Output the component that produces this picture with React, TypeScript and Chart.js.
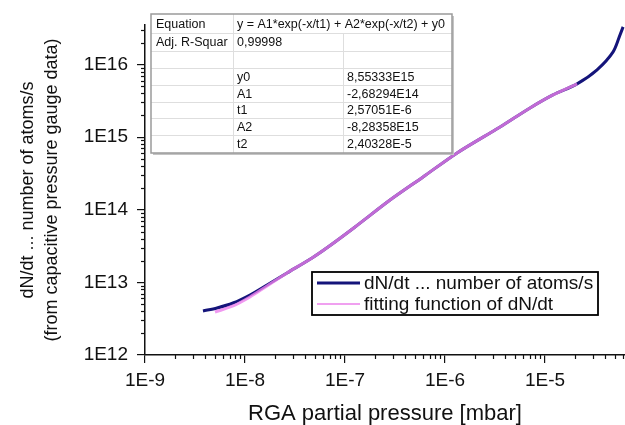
import React, { useEffect, useRef } from "react";
import { Chart, registerables } from "chart.js";

Chart.register(...registerables);

// ---- data ----
const measuredX = [3.8e-9, 5.25e-9, 7.59e-9, 1.12e-8, 1.66e-8, 2.63e-8, 4.68e-8, 6.76e-8, 1.26e-7, 2.82e-7, 6.03e-7, 1.32e-6, 3.55e-6, 7.08e-6, 1.2e-5, 2.09e-5, 3.31e-5, 4.79e-5, 5.62e-5, 6.03e-5];
const measuredY = [4.04e12, 4.44e12, 5.2e12, 6.7e12, 9.21e12, 1.35e13, 2.17e13, 3.07e13, 5.8e13, 1.36e14, 2.83e14, 6.06e14, 1.38e15, 2.52e15, 3.81e15, 5.41e15, 8.43e15, 1.49e16, 2.56e16, 3.3e16];
const fitX = [5.01e-9, 7.59e-9, 1.12e-8, 1.66e-8, 2.63e-8, 4.68e-8, 6.76e-8, 1.26e-7, 2.82e-7, 6.03e-7, 1.32e-6, 3.55e-6, 7.08e-6, 1.2e-5, 2.09e-5];
const fitY = [3.91e12, 4.73e12, 6.29e12, 8.92e12, 1.35e13, 2.17e13, 3.07e13, 5.8e13, 1.36e14, 2.83e14, 6.06e14, 1.38e15, 2.52e15, 3.81e15, 5.41e15];

const xDecades = [1e-9, 1e-8, 1e-7, 1e-6, 1e-5];
const xTickLabels = ["1E-9", "1E-8", "1E-7", "1E-6", "1E-5"];
const yDecades = [1e12, 1e13, 1e14, 1e15, 1e16];
const yTickLabels = ["1E12", "1E13", "1E14", "1E15", "1E16"];
const xMin = 1e-9;
const xMax = 6.3e-5;
const yMin = 1e12;
const yMax = 3.5e16;

const legendLabels = ["dN/dt ... number of atoms/s", "fitting function of dN/dt"];
const xTitle = "RGA partial pressure [mbar]";
const yTitle = ["dN/dt ... number of atoms/s", "(from capacitive pressure gauge data)"];

const tableRows = [
  ["Equation", "y = A1*exp(-x/t1) + A2*exp(-x/t2) + y0", ""],
  ["Adj. R-Squar", "0,99998", ""],
  ["", "", ""],
  ["", "y0", "8,55333E15"],
  ["", "A1", "-2,68294E14"],
  ["", "t1", "2,57051E-6"],
  ["", "A2", "-8,28358E15"],
  ["", "t2", "2,40328E-5"],
];

const FONT = "'Liberation Sans', Arial, sans-serif";
const BLUE = "#14147a";
const PINK_LINE = "rgba(236,128,236,0.8)";
const PINK_LEGEND = "#f0a0f0";

function minorTicks(decades: number[], max: number): number[] {
  const out: number[] = [];
  const all = [...decades, decades[decades.length - 1] * 10];
  for (const d of all) {
    for (let m = 2; m <= 9; m++) {
      const v = m * d;
      if (v <= max * 1.0001) out.push(v);
    }
  }
  return out;
}
const xMinor = minorTicks(xDecades, xMax);
const yMinor = minorTicks(yDecades, yMax);

const overlayPlugin = {
  id: "overlay",
  afterDraw(chart: any) {
    const ctx: CanvasRenderingContext2D = chart.ctx;
    const xs = chart.scales.x;
    const ys = chart.scales.y;
    ctx.save();
    // minor ticks
    ctx.strokeStyle = "#111";
    ctx.lineWidth = 1.2;
    for (const v of xMinor) {
      const p = Math.round(xs.getPixelForValue(v)) + 0.5;
      ctx.beginPath();
      ctx.moveTo(p, xs.top);
      ctx.lineTo(p, xs.top + 4);
      ctx.stroke();
    }
    for (const v of yMinor) {
      const p = Math.round(ys.getPixelForValue(v)) + 0.5;
      ctx.beginPath();
      ctx.moveTo(ys.right, p);
      ctx.lineTo(ys.right - 4, p);
      ctx.stroke();
    }

    // results table
    const L = 151, T = 14, R = 452, B = 153;
    const cols = [151, 233, 343, 452];
    const rows = [14, 33, 51, 68, 85, 102, 118, 135, 153];
    ctx.fillStyle = "#c4c4c4";
    ctx.fillRect(L + 2, T + 2, R - L, B - T);
    ctx.fillStyle = "#ffffff";
    ctx.fillRect(L, T, R - L, B - T);
    ctx.strokeStyle = "#dedede";
    ctx.lineWidth = 1;
    for (let i = 1; i < rows.length - 1; i++) {
      ctx.beginPath();
      ctx.moveTo(L, rows[i] + 0.5);
      ctx.lineTo(R, rows[i] + 0.5);
      ctx.stroke();
    }
    ctx.beginPath();
    ctx.moveTo(cols[1] + 0.5, T);
    ctx.lineTo(cols[1] + 0.5, B);
    ctx.moveTo(cols[2] + 0.5, rows[1]);
    ctx.lineTo(cols[2] + 0.5, B);
    ctx.stroke();
    ctx.strokeStyle = "#9a9a9a";
    ctx.lineWidth = 1.5;
    ctx.strokeRect(L, T, R - L, B - T);

    ctx.fillStyle = "#111";
    ctx.font = `12.5px ${FONT}`;
    ctx.textBaseline = "middle";
    ctx.textAlign = "left";
    tableRows.forEach((r, i) => {
      const cy = (rows[i] + rows[i + 1]) / 2 + 1;
      if (r[0]) ctx.fillText(r[0], cols[0] + 5, cy);
      if (r[1]) ctx.fillText(r[1], cols[1] + 4, cy);
      if (r[2]) ctx.fillText(r[2], cols[2] + 4, cy);
    });

    // legend
    const lx = 312, ly = 272, lw = 286, lh = 43;
    ctx.fillStyle = "#fff";
    ctx.fillRect(lx, ly, lw, lh);
    ctx.strokeStyle = "#000";
    ctx.lineWidth = 1.8;
    ctx.strokeRect(lx, ly, lw, lh);
    const rowY = [283, 304];
    const colors = [BLUE, PINK_LEGEND];
    const widths = [3, 2];
    ctx.font = `19px ${FONT}`;
    legendLabels.forEach((t, i) => {
      ctx.strokeStyle = colors[i];
      ctx.lineWidth = widths[i];
      ctx.beginPath();
      ctx.moveTo(317, rowY[i]);
      ctx.lineTo(360, rowY[i]);
      ctx.stroke();
      ctx.fillStyle = "#111";
      ctx.fillText(t, 364, rowY[i] + 1);
    });
    ctx.restore();
  },
};

export default function App() {
  const ref = useRef<HTMLCanvasElement | null>(null);
  useEffect(() => {
    if (!ref.current) return;
    const chart = new Chart(ref.current, {
      type: "line",
      data: {
        datasets: [
          {
            label: legendLabels[1],
            data: fitX.map((x, i) => ({ x, y: fitY[i] })),
            borderColor: PINK_LINE,
            borderWidth: 3,
            pointRadius: 0,
            tension: 0.3,
            fill: false,
          },
          {
            label: legendLabels[0],
            data: measuredX.map((x, i) => ({ x, y: measuredY[i] })),
            borderColor: BLUE,
            borderWidth: 3,
            pointRadius: 0,
            tension: 0.3,
            fill: false,
          },
        ],
      },
      options: {
        responsive: false,
        animation: false,
        layout: { padding: { top: 25, right: 0, left: 0, bottom: 0 } },
        plugins: { legend: { display: false }, tooltip: { enabled: false } },
        scales: {
          x: {
            type: "logarithmic",
            min: xMin,
            max: xMax,
            bounds: "data",
            afterBuildTicks: (s: any) => {
              s.ticks = xDecades.map((v) => ({ value: v, major: true }));
            },
            afterFit: (s: any) => {
              s.height = 70;
            },
            ticks: {
              autoSkip: false,
              maxRotation: 0,
              padding: 6,
              color: "#111",
              font: { family: FONT, size: 19, lineHeight: 1.2 },
              callback: (v: any) => {
                const i = xDecades.findIndex((d) => Math.abs(d - Number(v)) / d < 1e-6);
                return i >= 0 ? xTickLabels[i] : "";
              },
            },
            grid: { drawOnChartArea: false, drawTicks: true, tickLength: 8, color: "#111", lineWidth: 1.2 },
            border: { display: true, color: "#111", width: 1.5 },
            title: {
              display: true,
              text: xTitle,
              color: "#111",
              font: { family: FONT, size: 22, lineHeight: 1 },
              padding: { top: 0, bottom: 0 },
            },
          },
          y: {
            type: "logarithmic",
            min: yMin,
            max: yMax,
            bounds: "data",
            afterBuildTicks: (s: any) => {
              s.ticks = yDecades.map((v) => ({ value: v, major: true }));
            },
            afterFit: (s: any) => {
              s.width = 145;
            },
            ticks: {
              autoSkip: false,
              padding: 9,
              color: "#111",
              font: { family: FONT, size: 19, lineHeight: 1.2 },
              callback: (v: any) => {
                const i = yDecades.findIndex((d) => Math.abs(d - Number(v)) / d < 1e-6);
                return i >= 0 ? yTickLabels[i] : "";
              },
            },
            grid: { drawOnChartArea: false, drawTicks: true, tickLength: 8, color: "#111", lineWidth: 1.2 },
            border: { display: true, color: "#111", width: 1.5 },
            title: {
              display: true,
              text: yTitle,
              color: "#111",
              font: { family: FONT, size: 18, lineHeight: 1.333 },
              padding: { top: 16, bottom: 0 },
            },
          },
        },
      },
      plugins: [overlayPlugin],
    } as any);
    return () => chart.destroy();
  }, []);
  return (
    <div style={{ position: "fixed", left: 0, top: 0, width: 625, height: 425, background: "#fff" }}>
      <canvas ref={ref} width={625} height={425} style={{ display: "block" }} />
    </div>
  );
}
